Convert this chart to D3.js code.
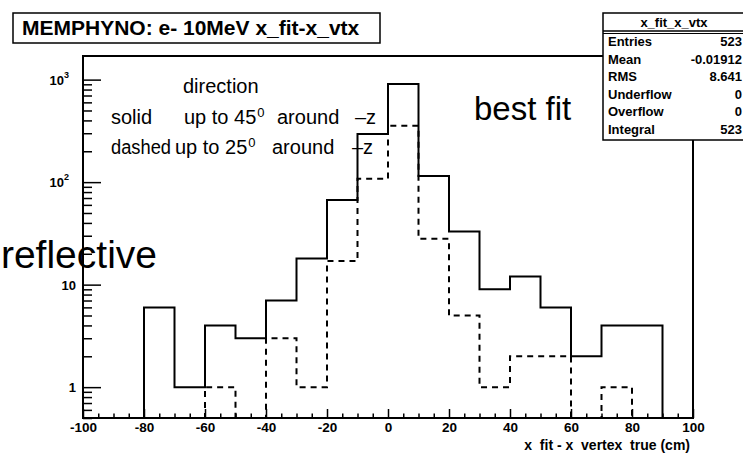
<!DOCTYPE html>
<html>
<head>
<meta charset="utf-8">
<script src="https://cdn.jsdelivr.net/npm/d3@7"></script>
<style>
  html, body { margin: 0; padding: 0; background: #fff; }
  svg { display: block; font-family: "Liberation Sans", Arial, Helvetica, sans-serif; }
</style>
</head>
<body>
<svg id="chart" width="743" height="453"></svg>
<script>
// Histogram x_fit - x_vtx, 20 bins of 10 cm from -100 to 100
const binLowEdges = [-100, -90, -80, -70, -60, -50, -40, -30, -20, -10, 0, 10, 20, 30, 40, 50, 60, 70, 80, 90];
const binWidth = 10;
// solid: direction up to 45 deg around -z
const solidCounts  = [0, 0, 6, 1, 4, 3, 7, 18, 67, 294, 906, 115, 33, 9, 12, 6, 2, 4, 4, 0];
// dashed: direction up to 25 deg around -z
const dashedCounts = [0, 0, 0, 0, 1, 0, 3, 1, 17, 108, 354, 28, 5, 1, 2, 2, 0, 1, 0, 0];

const xTicksMajor = [-100, -80, -60, -40, -20, 0, 20, 40, 60, 80, 100];
const yTicksMajor = [1, 10, 100, 1000];
const yTickLabels = [["1", ""], ["10", ""], ["10", "2"], ["10", "3"]];

const titleText = "MEMPHYNO: e- 10MeV x_fit-x_vtx";
const xAxisTitle = "x  fit - x  vertex  true (cm)";
const statName = "x_fit_x_vtx";
const statLabels = ["Entries", "Mean", "RMS", "Underflow", "Overflow", "Integral"];
const statValues = ["523", "-0.01912", "8.641", "0", "0", "523"];

const svg = d3.select("#chart");
const frame = { left: 83, right: 693, top: 56, bottom: 418 };
const yMin = 0.5, yMax = 1700;

const x = d3.scaleLinear().domain([-100, 100]).range([frame.left, frame.right]);
const y = d3.scaleLog().domain([yMin, yMax]).range([frame.bottom, frame.top]);

svg.append("defs").append("clipPath").attr("id", "frameClip")
  .append("rect")
  .attr("x", frame.left).attr("y", frame.top)
  .attr("width", frame.right - frame.left).attr("height", frame.bottom - frame.top);

// step outline for a histogram
function stepPoints(counts) {
  const pts = [[binLowEdges[0], yMin]];
  counts.forEach((c, i) => {
    const v = Math.max(c, yMin);
    pts.push([binLowEdges[i], v]);
    pts.push([binLowEdges[i] + binWidth, v]);
  });
  pts.push([binLowEdges[binLowEdges.length - 1] + binWidth, yMin]);
  return pts;
}
const line = d3.line().x(d => x(d[0])).y(d => y(d[1]));

const plot = svg.append("g").attr("clip-path", "url(#frameClip)");
plot.append("path").attr("d", line(stepPoints(dashedCounts)))
  .attr("fill", "none").attr("stroke", "#000").attr("stroke-width", 2)
  .attr("stroke-dasharray", "6,5");
plot.append("path").attr("d", line(stepPoints(solidCounts)))
  .attr("fill", "none").attr("stroke", "#000").attr("stroke-width", 2);

// frame
svg.append("rect")
  .attr("x", frame.left).attr("y", frame.top)
  .attr("width", frame.right - frame.left).attr("height", frame.bottom - frame.top)
  .attr("fill", "none").attr("stroke", "#000").attr("stroke-width", 2);

// x axis ticks (drawn inward)
const xMinor = d3.range(-100, 101, 5).filter(v => v % 20 !== 0);
const xAxisMajor = d3.axisBottom(x).tickValues(xTicksMajor).tickSize(-9).tickFormat(d => String(d));
const xAxisMinor = d3.axisBottom(x).tickValues(xMinor).tickSize(-4.5).tickFormat("");
const gxMinor = svg.append("g").attr("transform", `translate(0,${frame.bottom})`).call(xAxisMinor);
const gx = svg.append("g").attr("transform", `translate(0,${frame.bottom})`).call(xAxisMajor);
[gx, gxMinor].forEach(g => {
  g.select(".domain").remove();
  g.selectAll(".tick line").attr("stroke", "#000").attr("stroke-width", 1.5);
});
gx.selectAll(".tick text")
  .attr("font-family", "'Liberation Sans', Arial, sans-serif")
  .attr("font-size", 13.5).attr("font-weight", "bold").attr("fill", "#000")
  .attr("dy", "0").attr("y", 14);

// y axis ticks (drawn inward)
const yMinor = [];
[0.1, 1, 10, 100, 1000].forEach(dec => {
  for (let k = 2; k <= 9; k++) {
    const v = dec * k;
    if (v >= yMin && v <= yMax && !yTicksMajor.includes(v)) yMinor.push(v);
  }
});
const yAxisMajor = d3.axisLeft(y).tickValues(yTicksMajor).tickSize(-18).tickFormat("");
const yAxisMinor = d3.axisLeft(y).tickValues(yMinor).tickSize(-9).tickFormat("");
const gyMinor = svg.append("g").attr("transform", `translate(${frame.left},0)`).call(yAxisMinor);
const gy = svg.append("g").attr("transform", `translate(${frame.left},0)`).call(yAxisMajor);
[gy, gyMinor].forEach(g => {
  g.select(".domain").remove();
  g.selectAll(".tick line").attr("stroke", "#000").attr("stroke-width", 1.5);
});

// y tick labels (power-of-ten style)
yTicksMajor.forEach((v, i) => {
  const [base, exp] = yTickLabels[i];
  const t = svg.append("text")
    .attr("x", exp ? 69 : 76).attr("y", y(v) + 5)
    .attr("text-anchor", "end")
    .attr("font-size", 13).attr("font-weight", "bold");
  t.append("tspan").text(base);
  if (exp) {
    t.append("tspan").attr("font-size", 9).attr("dy", -7).text(exp);
  }
});

// x axis title
svg.append("text")
  .attr("x", 690).attr("y", 450)
  .attr("text-anchor", "end")
  .attr("font-size", 14).attr("font-weight", "bold")
  .attr("xml:space", "preserve")
  .style("white-space", "pre")
  .text(xAxisTitle);

// title box
svg.append("rect").attr("x", 13).attr("y", 13).attr("width", 367).attr("height", 30)
  .attr("fill", "#fff").attr("stroke", "#000").attr("stroke-width", 1.5);
svg.append("text").attr("x", 22).attr("y", 35)
  .attr("font-size", 21).attr("font-weight", "bold").text(titleText);

// statistics box
const stat = { left: 603, top: 13, right: 748, headerH: 18, rowH: 17.5 };
const statBottom = stat.top + stat.headerH + statLabels.length * stat.rowH + 4;
svg.append("rect").attr("x", stat.left).attr("y", stat.top)
  .attr("width", stat.right - stat.left).attr("height", statBottom - stat.top)
  .attr("fill", "#fff").attr("stroke", "#000").attr("stroke-width", 1.5);
svg.append("line")
  .attr("x1", stat.left).attr("x2", stat.right)
  .attr("y1", stat.top + stat.headerH).attr("y2", stat.top + stat.headerH)
  .attr("stroke", "#000").attr("stroke-width", 1.5);
svg.append("line")
  .attr("x1", stat.left).attr("x2", stat.right)
  .attr("y1", stat.top + stat.headerH + 2.5).attr("y2", stat.top + stat.headerH + 2.5)
  .attr("stroke", "#000").attr("stroke-width", 1);
svg.append("text")
  .attr("x", (stat.left + 745) / 2).attr("y", stat.top + 14)
  .attr("text-anchor", "middle").attr("font-size", 13).attr("font-weight", "bold")
  .text(statName);
statLabels.forEach((lab, i) => {
  const yy = stat.top + stat.headerH + stat.rowH * (i + 0.5) + 6.5;
  svg.append("text").attr("x", stat.left + 5).attr("y", yy)
    .attr("font-size", 13).attr("font-weight", "bold").text(lab);
  svg.append("text").attr("x", 742).attr("y", yy).attr("text-anchor", "end")
    .attr("font-size", 13).attr("font-weight", "bold").text(statValues[i]);
});

// annotations
const ann = svg.append("g").attr("font-size", 20).attr("fill", "#000");
function degreeText(g, xPos, yPos, deg) {
  const t = g.append("text").attr("x", xPos).attr("y", yPos);
  t.append("tspan").text("up to " + deg);
  t.append("tspan").attr("font-size", 13).attr("dy", -7).attr("dx", 1).text("0");
}
ann.append("text").attr("x", 183).attr("y", 93).text("direction");
ann.append("text").attr("x", 111).attr("y", 124).text("solid");
degreeText(ann, 184, 124, "45");
ann.append("text").attr("x", 277).attr("y", 124).text("around");
ann.append("text").attr("x", 355).attr("y", 124).text("\u2013z");
ann.append("text").attr("x", 111).attr("y", 154)
  .attr("textLength", 60).attr("lengthAdjust", "spacingAndGlyphs").text("dashed");
degreeText(ann, 175, 154, "25");
ann.append("text").attr("x", 272).attr("y", 154).text("around");
ann.append("text").attr("x", 352).attr("y", 154).text("\u2013z");

svg.append("text").attr("x", 474).attr("y", 120).attr("font-size", 33).text("best fit");
svg.append("text").attr("x", 157).attr("y", 268).attr("text-anchor", "end").attr("font-size", 39).text("reflective");
</script>
</body>
</html>
